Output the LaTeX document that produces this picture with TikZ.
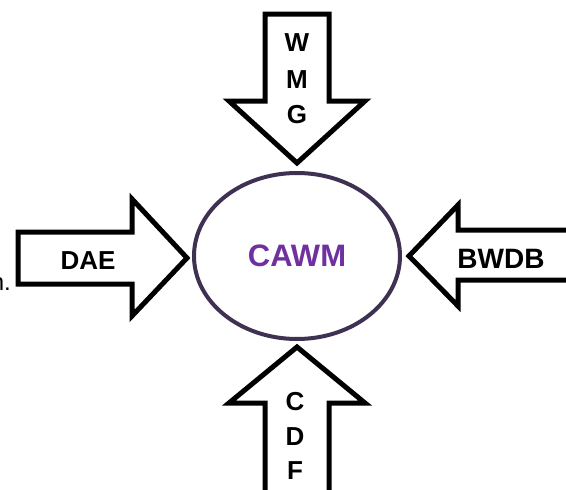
\documentclass[tikz,border=0pt]{standalone}
\usepackage{fontspec}
\setmainfont{Liberation Sans}
\usetikzlibrary{shapes.geometric}

\definecolor{ringpurple}{HTML}{3F3151}
\definecolor{namepurple}{HTML}{7030A0}

\tikzset{
  blockarrow/.style={draw=black, line width=5pt, fill=white, line join=miter, miter limit=10},
  agency/.style={font=\fontsize{26}{26}\selectfont\bfseries, inner sep=0pt},
  hub/.style={ellipse, draw=ringpurple, line width=4pt, fill=white,
    minimum width=206pt, minimum height=166pt, inner sep=0pt,
    text=namepurple, font=\fontsize{31}{31}\selectfont\bfseries}
}

\begin{document}
\begin{tikzpicture}[x=1pt, y=-1pt]
        \useasboundingbox (0,0) rectangle (566,490);

        % block arrows
        \draw[blockarrow] (265,14) -- (329,14) -- (329,101) -- (365,101) -- (297,163)
          -- (229,101) -- (265,101) -- cycle;
        \draw[blockarrow] (18,232) -- (132,232) -- (132,199) -- (187,258) -- (132,316)
          -- (132,284) -- (18,284) -- cycle;
        \draw[blockarrow] (572,230) -- (458,230) -- (458,205) -- (409,256) -- (458,306)
          -- (458,280) -- (572,280);
        \draw[blockarrow] (265,496) -- (265,403) -- (229,403) -- (297,347) -- (365,403)
          -- (329,403) -- (329,496);

        \node[hub] (cawm) at (297,256) {CAWM};

        \node[agency] (dae)  at (88,261)  {DAE};
        \node[agency, font=\fontsize{28}{28}\selectfont\bfseries] (bwdb) at (501,259) {BWDB};
        \foreach \ch/\y in {W/43, M/80, G/115}
          \node[agency] (top\ch) at (297,\y) {\ch};
        \foreach \ch/\y in {C/402, D/437, F/471}
          \node[agency] (bot\ch) at (295,\y) {\ch};

        \node[anchor=base east, inner sep=0pt, font=\fontsize{24}{24}\selectfont] (cut) at (11,290) {n.};

      \end{tikzpicture}
\end{document}
